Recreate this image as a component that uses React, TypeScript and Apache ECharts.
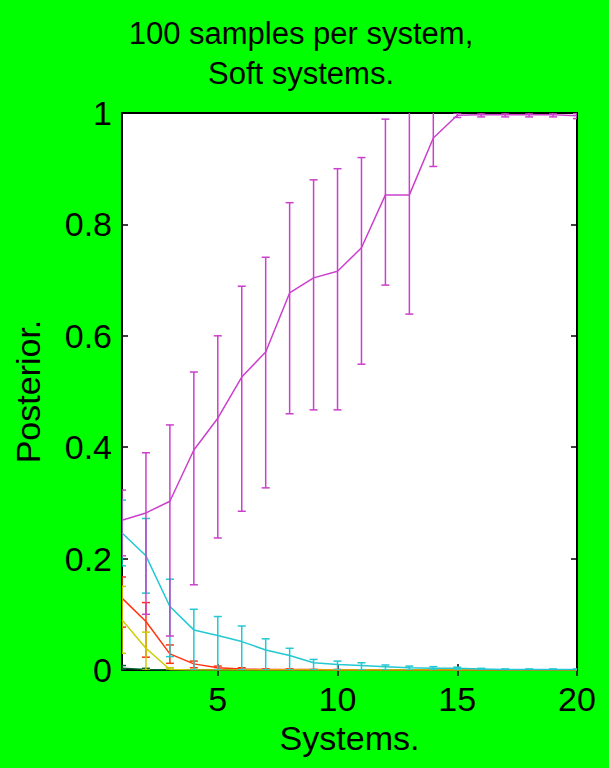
import { useEffect, useRef } from 'react';
import * as echarts from 'echarts';

const systems = [1, 2, 3, 4, 5, 6, 7, 8, 9, 10, 11, 12, 13, 14, 15, 16, 17, 18, 19, 20];

const magentaMean = [0.269, 0.282, 0.303, 0.395, 0.452, 0.526, 0.571, 0.677, 0.704, 0.716, 0.758, 0.853, 0.853, 0.955, 0.996, 0.997, 0.997, 0.997, 0.997, 0.995];
const magentaLow = [0.205, 0.1, 0.061, 0.153, 0.237, 0.285, 0.327, 0.46, 0.467, 0.467, 0.549, 0.691, 0.639, 0.904, 0.992, 0.993, 0.993, 0.993, 0.993, 0.99];
const magentaHigh = [0.323, 0.39, 0.44, 0.535, 0.6, 0.689, 0.741, 0.839, 0.88, 0.9, 0.92, 0.989, 1.07, 1.03, 1.0, 1.0, 1.0, 1.0, 1.0, 0.999];

const cyanMean = [0.246, 0.205, 0.114, 0.072, 0.062, 0.051, 0.036, 0.026, 0.013, 0.01, 0.008, 0.006, 0.004, 0.003, 0.003, 0.002, 0.001, 0.001, 0.001, 0.001];
const cyanLow = [0.187, 0.138, 0.024, 0.0, 0.0, 0.0, 0.0, 0.0, 0.0, 0.0, 0.0, 0.0, 0.0, 0.0, 0.0, 0.0, 0.0, 0.0, 0.0, 0.0];
const cyanHigh = [0.305, 0.272, 0.163, 0.109, 0.096, 0.079, 0.056, 0.039, 0.019, 0.016, 0.013, 0.009, 0.007, 0.006, 0.005, 0.003, 0.002, 0.002, 0.002, 0.002];

const redMean = [0.129, 0.087, 0.029, 0.011, 0.004, 0.002, 0.001, 0.001, 0.001, 0.0, 0.0, 0.0, 0.0, 0.0, 0.0, 0.0, 0.0, 0.0, 0.0, 0.0];
const redLow = [0.077, 0.023, 0.012, 0.004, 0.001, 0.0, 0.0, 0.0, 0.0, 0.0, 0.0, 0.0, 0.0, 0.0, 0.0, 0.0, 0.0, 0.0, 0.0, 0.0];
const redHigh = [0.167, 0.121, 0.045, 0.016, 0.007, 0.004, 0.002, 0.002, 0.001, 0.001, 0.0, 0.0, 0.0, 0.0, 0.0, 0.0, 0.0, 0.0, 0.0, 0.0];

const yellowMean = [0.09, 0.039, 0.001, 0.0, 0.0, 0.0, 0.0, 0.0, 0.0, 0.0, 0.0, 0.0, 0.0, 0.0, 0.0, 0.0, 0.0, 0.0, 0.0, 0.0];
const yellowLow = [0.03, 0.0, 0.0, 0.0, 0.0, 0.0, 0.0, 0.0, 0.0, 0.0, 0.0, 0.0, 0.0, 0.0, 0.0, 0.0, 0.0, 0.0, 0.0, 0.0];
const yellowHigh = [0.15, 0.068, 0.004, 0.001, 0.0, 0.0, 0.0, 0.0, 0.0, 0.0, 0.0, 0.0, 0.0, 0.0, 0.0, 0.0, 0.0, 0.0, 0.0, 0.0];

const greenMean = [0.003, 0.001, 0.0, 0.0, 0.0, 0.0, 0.0, 0.0, 0.0, 0.0, 0.0, 0.0, 0.0, 0.0, 0.0, 0.0, 0.0, 0.0, 0.0, 0.0];
const greenLow = [0.0, 0.0, 0.0, 0.0, 0.0, 0.0, 0.0, 0.0, 0.0, 0.0, 0.0, 0.0, 0.0, 0.0, 0.0, 0.0, 0.0, 0.0, 0.0, 0.0];
const greenHigh = [0.008, 0.003, 0.001, 0.0, 0.0, 0.0, 0.0, 0.0, 0.0, 0.0, 0.0, 0.0, 0.0, 0.0, 0.0, 0.0, 0.0, 0.0, 0.0, 0.0];

const xTicks = [5, 10, 15, 20];

const titleText = '100 samples per system,\nSoft systems.';
const xName = 'Systems.';
const yName = 'Posterior.';

const FONT = '"Liberation Sans", Arial, Helvetica, sans-serif';

const groups = [
  { color: '#00662e', mean: greenMean, low: greenLow, high: greenHigh },
  { color: '#ff3311', mean: redMean, low: redLow, high: redHigh },
  { color: '#cccc00', mean: yellowMean, low: yellowLow, high: yellowHigh },
  { color: '#22c8d2', mean: cyanMean, low: cyanLow, high: cyanHigh },
  { color: '#cc3fcc', mean: magentaMean, low: magentaLow, high: magentaHigh },
];

function buildSeries() {
  const out: any[] = [];
  groups.forEach((g, gi) => {
    const color = g.color;
    out.push({
      type: 'custom',
      clip: true,
      z: 2 + gi,
      data: systems.map((s, i) => [s, g.low[i], g.high[i]]),
      encode: { x: 0, y: [1, 2] },
      renderItem: (params: any, api: any) => {
        const x = api.value(0);
        const lo = api.value(1);
        const hi = api.value(2);
        const pHi = api.coord([x, hi]);
        const pLo = api.coord([x, lo]);
        const w = 4;
        const style = { stroke: color, lineWidth: 1.5 };
        return {
          type: 'group',
          children: [
            { type: 'line', shape: { x1: pHi[0], y1: pHi[1], x2: pLo[0], y2: pLo[1] }, style },
            { type: 'line', shape: { x1: pHi[0] - w, y1: pHi[1], x2: pHi[0] + w, y2: pHi[1] }, style },
            { type: 'line', shape: { x1: pLo[0] - w, y1: pLo[1], x2: pLo[0] + w, y2: pLo[1] }, style },
          ],
        };
      },
    });
    out.push({
      type: 'line',
      z: 2 + gi,
      data: systems.map((s, i) => [s, g.mean[i]]),
      showSymbol: false,
      symbol: 'none',
      lineStyle: { color, width: 1.5 },
      itemStyle: { color },
    });
  });
  return out;
}

export default function App() {
  const ref = useRef<HTMLDivElement>(null);
  useEffect(() => {
    if (!ref.current) return;
    const chart = echarts.init(ref.current, null, { renderer: 'svg' });
    const tickStyle = { color: '#000', width: 1.5 };
    chart.setOption({
      animation: false,
      backgroundColor: '#00ff00',
      textStyle: { fontFamily: FONT },
      title: {
        text: titleText,
        left: 296,
        top: 8,
        textAlign: 'center',
        textStyle: { fontFamily: FONT, fontSize: 31, fontWeight: 'normal', color: '#000', lineHeight: 40 },
      },
      grid: {
        left: 122,
        right: 32,
        top: 113,
        bottom: 98,
        show: true,
        backgroundColor: '#ffffff',
        borderColor: '#000',
        borderWidth: 2,
      },
      xAxis: [
        {
          type: 'value',
          min: 1,
          max: 20,
          position: 'bottom',
          name: xName,
          nameLocation: 'middle',
          nameGap: 50,
          nameTextStyle: { fontFamily: FONT, fontSize: 34, color: '#000' },
          axisLine: { show: false },
          splitLine: { show: false },
          axisTick: { show: true, inside: true, length: 6, lineStyle: tickStyle, customValues: xTicks },
          axisLabel: { show: true, margin: 12, fontFamily: FONT, fontSize: 34, color: '#000', customValues: xTicks },
        },
        {
          type: 'value',
          min: 1,
          max: 20,
          position: 'top',
          axisLine: { show: false },
          splitLine: { show: false },
          axisTick: { show: true, inside: true, length: 6, lineStyle: tickStyle, customValues: xTicks },
          axisLabel: { show: false },
        },
      ],
      yAxis: [
        {
          type: 'value',
          min: 0,
          max: 1,
          interval: 0.2,
          position: 'left',
          name: yName,
          nameLocation: 'middle',
          nameGap: 77,
          nameTextStyle: { fontFamily: FONT, fontSize: 34, color: '#000' },
          axisLine: { show: false },
          splitLine: { show: false },
          axisTick: { show: true, inside: true, length: 6, lineStyle: tickStyle },
          axisLabel: { show: true, margin: 10, fontFamily: FONT, fontSize: 34, color: '#000' },
        },
        {
          type: 'value',
          min: 0,
          max: 1,
          interval: 0.2,
          position: 'right',
          axisLine: { show: false },
          splitLine: { show: false },
          axisTick: { show: true, inside: true, length: 6, lineStyle: tickStyle },
          axisLabel: { show: false },
        },
      ],
      series: buildSeries(),
    });
    return () => chart.dispose();
  }, []);
  return (
    <div
      ref={ref}
      style={{ position: 'absolute', left: 0, top: 0, width: 609, height: 768 }}
    />
  );
}
